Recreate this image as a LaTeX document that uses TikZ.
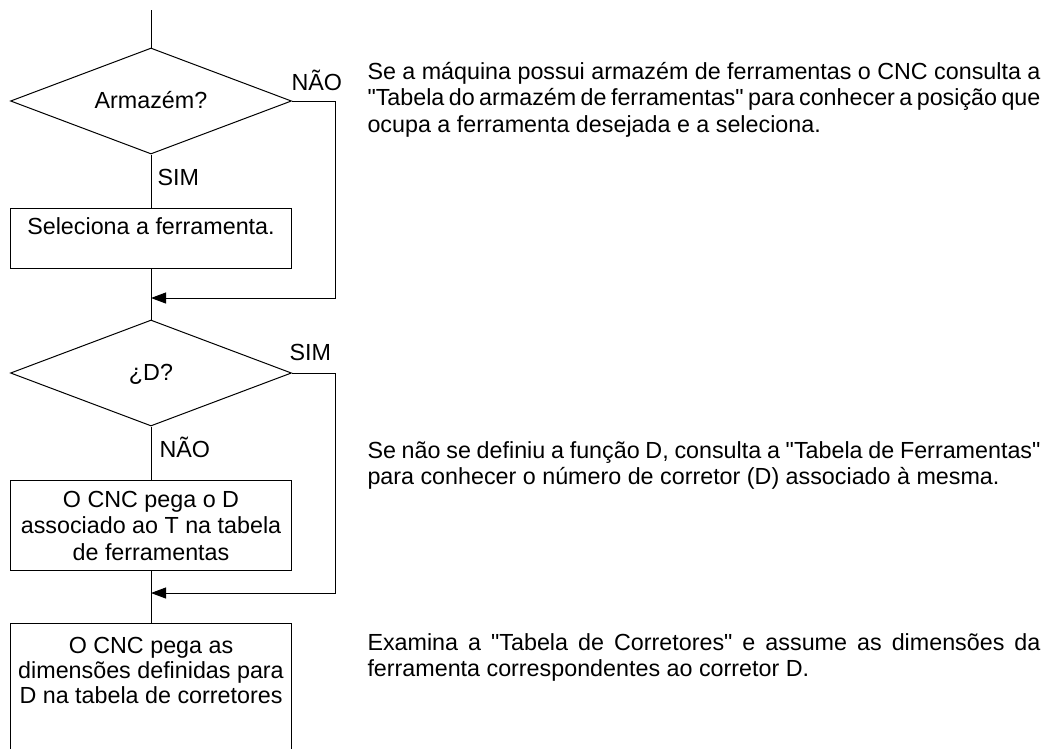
\documentclass[tikz,border=0pt]{standalone}
\usepackage{fontspec}
\setmainfont{Liberation Sans}[Ligatures=TeXOff]
\usetikzlibrary{shapes.geometric,arrows.meta,positioning}

\tikzset{
	decision/.style={draw, diamond, aspect=2.65, minimum width=281pt, minimum height=106pt, inner sep=0pt, text height=14pt, text depth=0pt},
	block/.style={draw, rectangle, minimum width=281pt, inner sep=0pt},
	boxtext/.style={anchor=base, inner sep=0pt, align=center},
	lbl/.style={anchor=base west, inner sep=0pt},
	note/.style={anchor=base west, inner sep=0pt, text width=673pt, align=justify},
	flow/.style={-{Triangle[length=15pt,width=11pt]}}
}

\begin{document}
\begin{tikzpicture}[x=1pt,y=-1pt,line width=1pt,
	every node/.style={font=\fontsize{23.3pt}{26.5pt}\selectfont}]
\useasboundingbox (0,0) rectangle (1048,748);
\clip (0,0) rectangle (1048,748);

\coordinate (top) at (151,10);
\node[decision] (d1) at (151,101) {Armaz\'em?};
\node[block, minimum height=60pt] (box1) at (151,238) {};
\node[boxtext] (box1txt) at (151,234) {Seleciona a ferramenta.};
\node[decision] (d2) at (151,373) {¿D?};
\node[block, minimum height=90pt] (box2) at (151,525) {};
% base of the last line
\node[boxtext] (box2txt) at (151,560) {O CNC pega o D\\associado ao T na tabela\\de ferramentas};
\node[block, minimum height=200pt] (box3) at (151,723) {};
\node[boxtext, font=\fontsize{23.3pt}{25pt}\selectfont] (box3txt) at (151,703) {O CNC pega as\\dimens\~oes definidas para\\D na tabela de corretores};

% main line
\draw (top) -- (d1);
\draw (d1) -- (box1);
\draw (box1) -- (d2);
\draw (d2) -- (box2);
\draw (box2) -- (box3);

% branches back to the main line
\foreach \d/\y in {d1/298,d2/593}
{
	\coordinate (c\d) at (335,\y);
	\coordinate (j\d) at (151,\y);
	\draw[flow] (\d.east) -| (c\d) -- (j\d);
}

\node[lbl] (no1) at (291,90) {N\~AO};
\node[lbl] (yes1) at (157,185) {SIM};
\node[lbl] (yes2) at (289,360) {SIM};
\node[lbl] (no2) at (159,457) {N\~AO};

\node[note] (note1) at (367,79) {Se a m\'aquina possui armaz\'em de ferramentas o CNC consulta a\linebreak "Tabela do armaz\'em de ferramentas" para conhecer a posi\c{c}\~ao que\linebreak ocupa a ferramenta desejada e a seleciona.};
\node[note] (note2) at (367,458) {Se n\~ao se definiu a fun\c{c}\~ao D, consulta a "Tabela de Ferramentas"\linebreak para conhecer o n\'umero de corretor (D) associado \`a mesma.};
\node[note] (note3) at (367,650) {Examina a "Tabela de Corretores" e assume as dimens\~oes da\linebreak ferramenta correspondentes ao corretor D.};
\end{tikzpicture}
\end{document}
